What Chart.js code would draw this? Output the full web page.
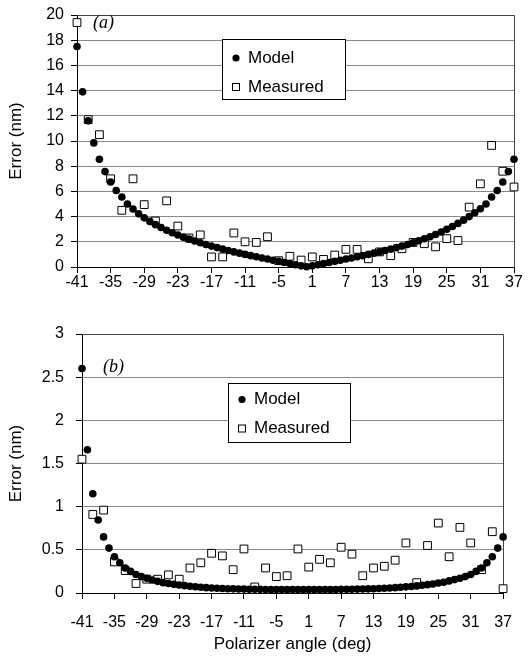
<!DOCTYPE html>
<html>
<head>
<meta charset="utf-8">
<script src="https://cdn.jsdelivr.net/npm/chart.js@4.4.0/dist/chart.umd.min.js"></script>
<style>
  html, body { margin: 0; padding: 0; background: #fff; }
  #wrap { position: relative; width: 528px; height: 659px; }
  .panel { position: absolute; left: 0; width: 528px; }
  #panelA { top: 0; height: 300px; }
  #panelB { top: 300px; height: 359px; }
</style>
</head>
<body>
<div id="wrap">
  <div class="panel" id="panelA"><canvas id="chartA"></canvas></div>
  <div class="panel" id="panelB"><canvas id="chartB"></canvas></div>
</div>
<script>
// angles (deg)
const modelAngles = [-41, -40, -39, -38, -37, -36, -35, -34, -33, -32, -31, -30, -29, -28, -27, -26, -25, -24, -23, -22,
  -21, -20, -19, -18, -17, -16, -15, -14, -13, -12, -11, -10, -9, -8, -7, -6, -5, -4, -3, -2,
  -1, 0, 1, 2, 3, 4, 5, 6, 7, 8, 9, 10, 11, 12, 13, 14, 15, 16, 17, 18,
  19, 20, 21, 22, 23, 24, 25, 26, 27, 28, 29, 30, 31, 32, 33, 34, 35, 36, 37];
const measuredAngles = [-41, -39, -37, -35, -33, -31, -29, -27, -25, -23, -21, -19, -17, -15, -13, -11, -9, -7, -5, -3,
  -1, 1, 3, 5, 7, 9, 11, 13, 15, 17, 19, 21, 23, 25, 27, 29, 31, 33, 35, 37];
const xTicks = [-41, -35, -29, -23, -17, -11, -5, 1, 7, 13, 19, 25, 31, 37];

// panel (a) error (nm)
const modelA = [17.5, 13.9, 11.6, 9.85, 8.55, 7.57, 6.75, 6.07, 5.55, 5.0, 4.6, 4.22, 3.9, 3.62, 3.36, 3.13, 2.92, 2.72, 2.54, 2.37,
  2.21, 2.06, 1.92, 1.79, 1.66, 1.54, 1.42, 1.31, 1.2, 1.1, 1.0, 0.9, 0.81, 0.72, 0.63, 0.54, 0.45, 0.36, 0.27, 0.18,
  0.09, 0.02, 0.09, 0.18, 0.27, 0.36, 0.45, 0.54, 0.63, 0.72, 0.81, 0.9, 1.0, 1.1, 1.2, 1.31, 1.42, 1.54, 1.66, 1.79,
  1.93, 2.08, 2.24, 2.4, 2.58, 2.78, 3.0, 3.22, 3.46, 3.72, 4.0, 4.3, 4.62, 5.0, 5.55, 6.07, 6.75, 7.57, 8.55];
const measuredA = [19.4, 11.7, 10.5, 7.0, 4.5, 7.0, 4.95, 3.65, 5.25, 3.25, 2.3, 2.55, 0.8, 0.8, 2.7, 2.0, 1.95, 2.4, 0.5, 0.85,
  0.55, 0.8, 0.6, 0.95, 1.4, 1.4, 0.65, 1.2, 0.9, 1.45, 1.95, 1.85, 1.6, 2.25, 2.1, 4.75, 6.6, 9.65, 7.6, 6.35];

// panel (b) error (nm)
const modelB = [2.6, 1.66, 1.15, 0.845, 0.65, 0.52, 0.42, 0.35, 0.29, 0.25, 0.215, 0.19, 0.17, 0.15, 0.135, 0.12, 0.11, 0.1, 0.092, 0.085,
  0.078, 0.072, 0.067, 0.062, 0.058, 0.055, 0.052, 0.05, 0.048, 0.046, 0.045, 0.044, 0.043, 0.042, 0.041, 0.04, 0.04, 0.04, 0.04, 0.04,
  0.04, 0.04, 0.04, 0.04, 0.04, 0.04, 0.04, 0.041, 0.042, 0.043, 0.044, 0.045, 0.046, 0.048, 0.05, 0.052, 0.055, 0.058, 0.062, 0.066,
  0.071, 0.076, 0.082, 0.089, 0.097, 0.105, 0.115, 0.125, 0.14, 0.155, 0.17, 0.19, 0.215, 0.25, 0.29, 0.35, 0.42, 0.52, 0.65];
const measuredB = [1.55, 0.91, 0.96, 0.36, 0.26, 0.11, 0.16, 0.16, 0.21, 0.16, 0.29, 0.35, 0.46, 0.43, 0.27, 0.51, 0.07, 0.29, 0.19, 0.2,
  0.51, 0.3, 0.39, 0.35, 0.53, 0.45, 0.2, 0.29, 0.31, 0.38, 0.58, 0.12, 0.55, 0.81, 0.42, 0.76, 0.58, 0.27, 0.71, 0.05];

const FONT = "'Liberation Sans', Arial, sans-serif";

// frame, panel tag and the boxed legend
const panelDecor = {
    id: 'panelDecor',
    beforeDatasetsDraw(chart) {
        const { ctx, chartArea: a } = chart;
        ctx.save();
        ctx.strokeStyle = '#444';
        ctx.lineWidth = 1;
        ctx.beginPath();
        ctx.moveTo(a.left, Math.round(a.top) + 0.5);
        ctx.lineTo(Math.round(a.right) + 0.5, Math.round(a.top) + 0.5);
        ctx.lineTo(Math.round(a.right) + 0.5, a.bottom);
        ctx.stroke();
        ctx.restore();
    },
    afterDatasetsDraw(chart, args, opts) {
        const ctx = chart.ctx;
        ctx.save();
        // (a) / (b)
        ctx.fillStyle = '#000';
        ctx.font = "italic 18px 'Liberation Serif', 'DejaVu Serif', serif";
        ctx.textBaseline = 'middle';
        ctx.textAlign = 'left';
        ctx.fillText(opts.tag, opts.tagX, opts.tagY);

        // legend box
        const b = opts.box;
        ctx.fillStyle = '#fff';
        ctx.fillRect(b.x, b.y, b.w, b.h);
        ctx.strokeStyle = '#000';
        ctx.lineWidth = 1;
        ctx.strokeRect(b.x + 0.5, b.y + 0.5, b.w, b.h);

        ctx.font = '17px ' + FONT;
        chart.data.datasets.forEach((ds, i) => {
            const y = b.rows[i];
            if (ds.pointStyle === 'circle') {
                ctx.fillStyle = '#000';
                ctx.beginPath();
                ctx.arc(b.symX, y, 3.6, 0, Math.PI * 2);
                ctx.fill();
            } else {
                ctx.strokeStyle = '#000';
                ctx.strokeRect(b.symX - 3.5, y - 3.5, 7, 7);
            }
            ctx.fillStyle = '#000';
            ctx.fillText(ds.label, b.textX, y);
        });
        ctx.restore();
    }
};

function makeChart(id, model, measured, yMax, yStep, opts) {
    const ctx = document.getElementById(id).getContext('2d');
    return new Chart(ctx, {
        type: 'scatter',
        data: {
            datasets: [{
                label: 'Model',
                data: modelAngles.map((a, i) => ({ x: a, y: model[i] })),
                pointStyle: 'circle',
                pointRadius: 3.8,
                pointBackgroundColor: '#000',
                pointBorderWidth: 0,
                clip: false
            }, {
                label: 'Measured',
                data: measuredAngles.map((a, i) => ({ x: a, y: measured[i] })),
                pointStyle: 'rect',
                pointRadius: 5.5,
                pointBackgroundColor: '#fff',
                pointBorderColor: '#000',
                pointBorderWidth: 1,
                clip: false
            }]
        },
        options: {
            responsive: true,
            maintainAspectRatio: false,
            animation: false,
            devicePixelRatio: 1,
            layout: { padding: opts.padding },
            plugins: {
                legend: { display: false },
                tooltip: { enabled: false },
                panelDecor: opts.decor
            },
            scales: {
                x: {
                    type: 'linear',
                    min: -41,
                    max: 37,
                    afterBuildTicks: s => { s.ticks = xTicks.map(v => ({ value: v })); },
                    afterFit: s => { s.height = opts.xHeight; },
                    border: { color: '#000', width: 1 },
                    grid: { drawOnChartArea: false, tickLength: 6, tickColor: '#000' },
                    ticks: { color: '#000', font: { family: FONT, size: 16, lineHeight: 1 }, padding: opts.xPad, maxRotation: 0, autoSkip: false },
                    title: {
                        display: opts.xTitle,
                        text: 'Polarizer angle (deg)',
                        color: '#000',
                        font: { family: FONT, size: 17 },
                        padding: { top: 0, bottom: 4 }
                    }
                },
                y: {
                    min: 0,
                    max: yMax,
                    afterFit: s => { s.width = opts.yWidth; },
                    border: { color: '#000', width: 1 },
                    grid: { color: '#8a8a8a', tickLength: 6, tickColor: '#000' },
                    ticks: {
                        stepSize: yStep,
                        color: '#000',
                        font: { family: FONT, size: 16, lineHeight: 1 },
                        padding: opts.yPad,
                        callback: v => String(Math.round(v * 10) / 10)
                    },
                    title: {
                        display: true,
                        text: 'Error (nm)',
                        color: '#000',
                        font: { family: FONT, size: 17 },
                        padding: { top: 6, bottom: 0 }
                    }
                }
            }
        },
        plugins: [panelDecor]
    });
}

makeChart('chartA', modelA, measuredA, 20, 2, {
    padding: { top: 9, right: 14, left: 0, bottom: 0 },
    xHeight: 33, xPad: 2, xTitle: false, yWidth: 77, yPad: 7,
    decor: {
        tag: '(a)', tagX: 93, tagY: 23,
        box: { x: 222, y: 39, w: 123, h: 60, rows: [58, 87], symX: 236, textX: 248 }
    }
});

makeChart('chartB', modelB, measuredB, 3, 0.5, {
    padding: { top: 34, right: 16, left: 0, bottom: 0 },
    xHeight: 66, xPad: 16, xTitle: true, yWidth: 82, yPad: 12,
    decor: {
        tag: '(b)', tagX: 103, tagY: 67,
        box: { x: 228, y: 83, w: 122, h: 59, rows: [99.5, 128.5], symX: 242, textX: 254 }
    }
});
</script>
</body>
</html>
